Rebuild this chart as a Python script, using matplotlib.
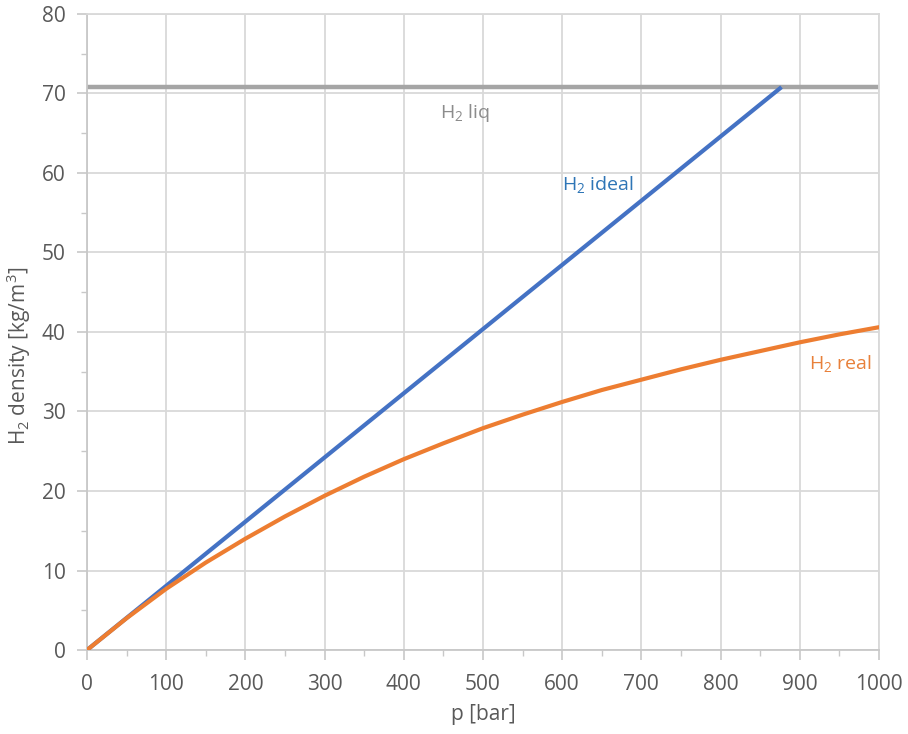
import numpy as np
import matplotlib
matplotlib.use("Agg")
import matplotlib.pyplot as plt
from matplotlib.ticker import MultipleLocator

plt.rcParams['font.family'] = ['Open Sans', 'DejaVu Sans']
plt.rcParams['mathtext.default'] = 'regular'

# data
p_real = [0, 50, 100, 150, 200, 250, 300, 350, 400, 450, 500,
          550, 600, 650, 700, 750, 800, 850, 900, 950, 1000]
rho_real = [0, 4.0, 7.7, 11.0, 14.0, 16.8, 19.4, 21.8, 24.0, 26.0, 27.9,
            29.6, 31.2, 32.7, 34.0, 35.3, 36.5, 37.6, 38.7, 39.7, 40.6]
p_ideal = [0, 877]
rho_ideal = [0, 70.8]
rho_liq = 70.8

fig = plt.figure(figsize=(9.08, 7.34), dpi=100)
ax = fig.add_axes([0.0958, 0.1144, 0.968 - 0.0958, 0.981 - 0.1144])

grid_c = '#d9d9d9'
ax.set_xlim(0, 1000)
ax.set_ylim(0, 80)
ax.xaxis.set_major_locator(MultipleLocator(100))
ax.xaxis.set_minor_locator(MultipleLocator(50))
ax.yaxis.set_major_locator(MultipleLocator(10))
ax.yaxis.set_minor_locator(MultipleLocator(5))
ax.grid(which='major', color=grid_c, lw=1.3)
ax.set_axisbelow(True)

for s in ['top', 'right']:
    ax.spines[s].set_color(grid_c)
    ax.spines[s].set_linewidth(1.3)
for s in ['left', 'bottom']:
    ax.spines[s].set_color('#c8c8c8')
    ax.spines[s].set_linewidth(1.3)

ax.tick_params(which='major', direction='out', length=7, width=1.2,
               color='#c8c8c8', labelsize=15, labelcolor='#595959')
ax.tick_params(which='minor', direction='out', length=4, width=1.0, color='#c8c8c8')
ax.tick_params(axis='x', which='major', pad=10)
ax.tick_params(axis='y', which='major', pad=8.5)

ax.axhline(rho_liq, color='#a5a5a5', lw=3.2, zorder=2)
ax.plot(p_ideal, rho_ideal, color='#4472c4', lw=3, solid_capstyle='butt', zorder=3)
ax.plot(p_real, rho_real, color='#ed7d31', lw=3, solid_joinstyle='round', zorder=4)

ax.text(478, 67.5, 'H$_2$ liq', color='#8c8c8c', fontsize=14, ha='center', va='center')
ax.text(645, 58.6, 'H$_2$ ideal', color='#2e75b6', fontsize=14, ha='center', va='center')
ax.text(951, 36.0, 'H$_2$ real', color='#e8803a', fontsize=14, ha='center', va='center')

ax.set_xlabel('p [bar]', fontsize=15, color='#595959', labelpad=7)
ax.set_ylabel('H$_2$ density [kg/m$^3$]', fontsize=15, color='#595959')
ax.yaxis.set_label_coords(-0.068, 0.462)

fig.savefig('out.png', dpi=100)
